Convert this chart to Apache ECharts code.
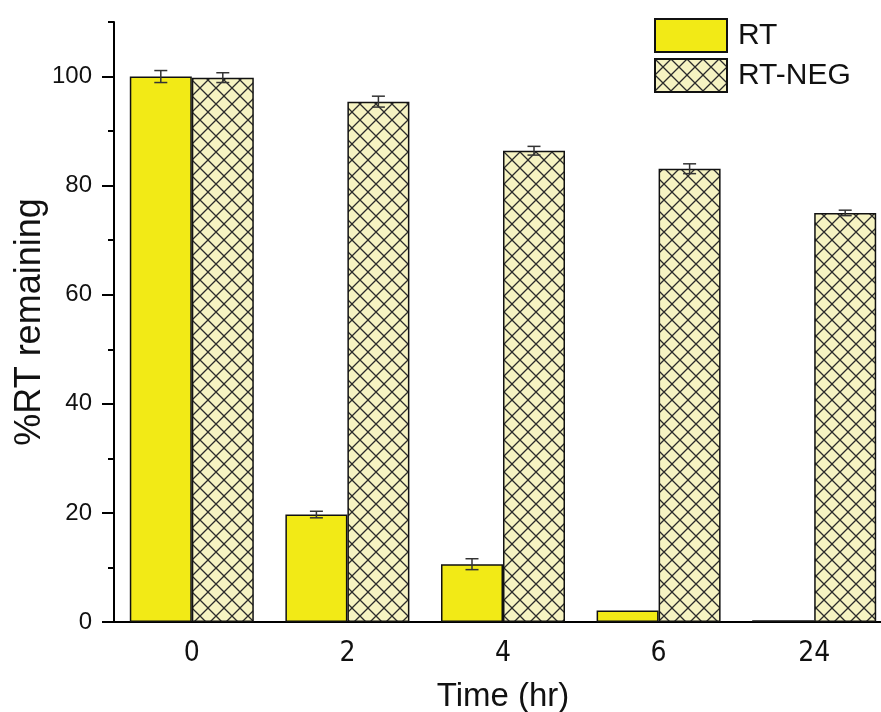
<!DOCTYPE html>
<html><head><meta charset="utf-8">
<script src="https://cdn.jsdelivr.net/npm/echarts@6/dist/echarts.min.js"></script>
<style>html,body{margin:0;padding:0;background:#fff}#c{width:881px;height:712px}</style>
</head><body><div id="c"></div>
<script>
const categories = ['0', '2', '4', '6', '24'];
const rtValues = [100, 19.7, 10.6, 2.1, 0.3];
const rtErrors = [1.1, 0.6, 1.0, 0, 0];
const negValues = [99.8, 95.4, 86.4, 83.1, 75.0];
const negErrors = [0.9, 1.0, 0.8, 0.9, 0.5];
const yMajorTicks = [0, 20, 40, 60, 80, 100];
const yMinorTicks = [10, 30, 50, 70, 90, 110];

const FONT = 'Arial, "Liberation Sans", sans-serif';
const NARROW = '"Liberation Sans Narrow", "Arial Narrow", "DejaVu Sans Condensed", sans-serif';

function makeHatch() {
  const s = 16;
  const c = document.createElement('canvas');
  c.width = s; c.height = s;
  const ctx = c.getContext('2d');
  ctx.fillStyle = '#f6f3c2';
  ctx.fillRect(0, 0, s, s);
  ctx.strokeStyle = '#2b2b2b';
  ctx.lineWidth = 1.3;
  ctx.beginPath();
  for (const k of [-s, 0, s]) {
    ctx.moveTo(k, 0); ctx.lineTo(k + s, s);
    ctx.moveTo(k + s, 0); ctx.lineTo(k, s);
  }
  ctx.stroke();
  return c;
}
const hatch = makeHatch();

const BAR_W = 62;
function errRender(sign) {
  return function (params, api) {
    const err = api.value(2);
    if (!err) return null;
    const idx = api.value(0), v = api.value(1);
    const top = api.coord([idx, v + err]);
    const bot = api.coord([idx, v - err]);
    const x = top[0] + sign * BAR_W / 2;
    const cap = 6.5;
    const st = { stroke: '#333', lineWidth: 1.5 };
    return {
      type: 'group',
      children: [
        { type: 'line', shape: { x1: x, y1: top[1], x2: x, y2: bot[1] }, style: st },
        { type: 'line', shape: { x1: x - cap, y1: top[1], x2: x + cap, y2: top[1] }, style: st },
        { type: 'line', shape: { x1: x - cap, y1: bot[1], x2: x + cap, y2: bot[1] }, style: st }
      ]
    };
  };
}

const chart = echarts.init(document.getElementById('c'), null, { renderer: 'canvas' });
chart.setOption({
  animation: false,
  backgroundColor: '#fff',
  textStyle: { fontFamily: FONT },
  grid: { left: 114, top: 22, width: 778, height: 600, outerBoundsMode: 'none', containLabel: false },
  legend: {
    data: ['RT', 'RT-NEG'],
    orient: 'vertical',
    left: 649, top: 13,
    itemWidth: 72, itemHeight: 33, itemGap: 5,
    selectedMode: false,
    icon: 'rect',
    textStyle: { fontSize: 30, color: '#111', fontFamily: FONT, padding: [0, 0, 0, 6] }
  },
  xAxis: [{
    type: 'category',
    data: categories,
    boundaryGap: true,
    axisLine: { lineStyle: { color: '#000', width: 2 } },
    axisTick: { alignWithLabel: true, length: 12, lineStyle: { color: '#000', width: 2 } },
    axisLabel: { fontSize: 28, color: '#111', fontFamily: NARROW, margin: 18 },
    name: 'Time (hr)',
    nameLocation: 'middle',
    nameGap: 58,
    nameTextStyle: { fontSize: 33, color: '#111', fontFamily: FONT }
  }, {
    type: 'category',
    data: categories,
    position: 'bottom',
    boundaryGap: true,
    axisLine: { show: false },
    axisTick: { length: 6, lineStyle: { color: '#000', width: 2 } },
    axisLabel: { show: false }
  }],
  yAxis: [{
    type: 'value',
    min: 0, max: 110,
    position: 'left',
    splitLine: { show: false },
    axisLine: { show: true, lineStyle: { color: '#000', width: 2 } },
    axisTick: { show: true, length: 12, customValues: yMajorTicks, lineStyle: { color: '#000', width: 2 } },
    axisLabel: { fontSize: 24, color: '#111', margin: 22, customValues: yMajorTicks },
    name: '%RT remaining',
    nameLocation: 'middle',
    nameRotate: 90,
    nameGap: 66,
    nameMoveOverlap: false,
    nameTextStyle: { fontSize: 36, color: '#111', fontFamily: FONT }
  }, {
    type: 'value',
    min: 0, max: 110,
    position: 'left',
    splitLine: { show: false },
    axisLine: { show: false },
    axisTick: { show: true, length: 6, customValues: yMinorTicks, lineStyle: { color: '#000', width: 2 } },
    axisLabel: { show: false }
  }],
  series: [{
    name: 'RT',
    type: 'bar',
    data: rtValues,
    barWidth: BAR_W,
    barGap: '0%',
    itemStyle: { color: '#f2ea16', borderColor: '#111', borderWidth: 1.5 }
  }, {
    name: 'RT-NEG',
    type: 'bar',
    data: negValues,
    barWidth: BAR_W,
    barGap: '0%',
    itemStyle: { color: { image: hatch, repeat: 'repeat' }, borderColor: '#111', borderWidth: 1.5 }
  }, {
    name: 'RT err',
    type: 'custom',
    z: 5,
    renderItem: errRender(-1),
    data: rtValues.map((v, i) => [i, v, rtErrors[i]])
  }, {
    name: 'RT-NEG err',
    type: 'custom',
    z: 5,
    renderItem: errRender(1),
    data: negValues.map((v, i) => [i, v, negErrors[i]])
  }]
});
</script>
</body></html>
